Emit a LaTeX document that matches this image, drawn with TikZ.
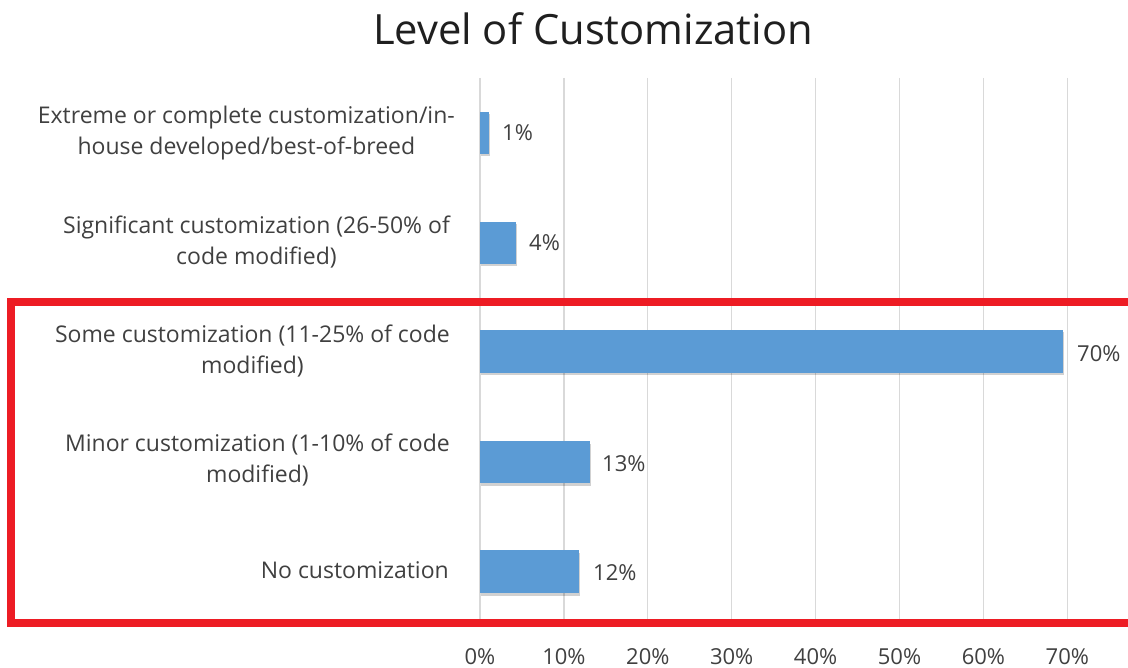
\documentclass[tikz,border=0pt]{standalone}
\usepackage{fontspec}
\setmainfont{Open Sans}
\usetikzlibrary{shadows}
\definecolor{barblue}{HTML}{5B9BD5}
\definecolor{gridgray}{HTML}{D9D9D9}
\definecolor{txtgray}{HTML}{404040}
\definecolor{hlred}{HTML}{ED1C24}
\tikzset{
  catlabel/.style={anchor=east, align=center, text=txtgray, font=\fontsize{23}{31}\selectfont, inner sep=0pt},
  vallabel/.style={anchor=west, text=txtgray, font=\fontsize{22}{26}\selectfont, inner sep=0pt},
  ticklabel/.style={anchor=base, text=txtgray, font=\fontsize{22}{26}\selectfont, inner sep=0pt},
  barbox/.style={fill=barblue, draw=none, drop shadow={shadow xshift=1pt, shadow yshift=-2.5pt, opacity=0.18, fill=black}},
  gridline/.style={draw=gridgray, line width=1.3pt},
  hlbox/.style={draw=hlred, line width=8pt}
}
\begin{document}
\begin{tikzpicture}[x=1pt,y=-1pt]
\useasboundingbox (0,0) rectangle (1128,668);
\fill[white] (0,0) rectangle (1128,668);
% grid
\foreach \k in {0,...,7} {
  \draw[gridline] ({480+83.9*\k},78) -- ({480+83.9*\k},622);
}
% title
\node[anchor=base, font=\fontsize{41.7}{50}\selectfont, text=black!88, inner sep=0pt] (title) at (593,45) {Level of Customization};
% bars
\path[barbox] (480,112) rectangle (489,154) coordinate (b1);
\path[barbox] (480,222) rectangle (516,264) coordinate (b2);
\path[barbox] (480,330) rectangle (1063,373) coordinate (b3);
\path[barbox] (480,441) rectangle (590,483) coordinate (b4);
\path[barbox] (480,550) rectangle (579,593) coordinate (b5);
% value labels
\node[vallabel] (v1) at (502,133) {1\%};
\node[vallabel] (v2) at (529,243) {4\%};
\node[vallabel] (v3) at (1077,354) {70\%};
\node[vallabel] (v4) at (602,464) {13\%};
\node[vallabel] (v5) at (593,573) {12\%};
% category labels
\node[catlabel] (c1) at (455,133) {Extreme or complete customization/in-\\house developed/best-of-breed};
\node[catlabel] (c2) at (450,242) {Significant customization (26-50\% of\\code modified)};
\node[catlabel] (c3) at (450,351) {Some customization (11-25\% of code\\modified)};
\node[catlabel] (c4) at (450,460) {Minor customization (1-10\% of code\\modified)};
\node[catlabel] (c5) at (449,570) {No customization};
% tick labels
\foreach \k/\t in {0/0\%,1/10\%,2/20\%,3/30\%,4/40\%,5/50\%,6/60\%,7/70\%} {
  \node[ticklabel] (t\k) at ({480+83.9*\k},664) {\t};
}
% highlight box
\begin{scope}
\clip (0,0) rectangle (1128,668);
\draw[hlbox] (11,302) rectangle (1140,623);
\end{scope}
\end{tikzpicture}
\end{document}
